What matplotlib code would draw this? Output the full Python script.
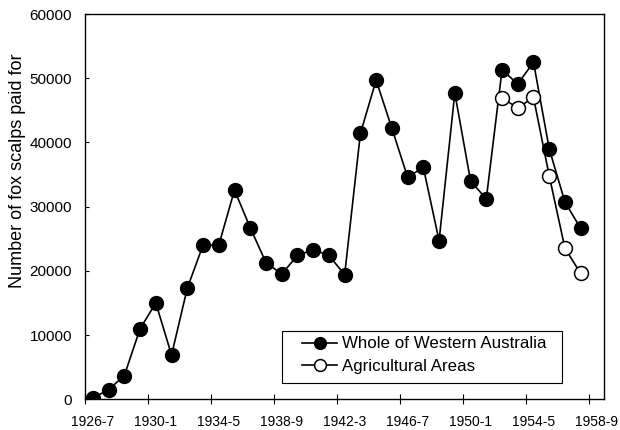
import matplotlib
matplotlib.use("Agg")
import matplotlib.pyplot as plt
from matplotlib.patches import Rectangle
import numpy as np

plt.rcParams['font.family'] = ['Liberation Sans', 'DejaVu Sans']

seasons = ["1926-7", "1927-8", "1928-9", "1929-30", "1930-1", "1931-2", "1932-3",
           "1933-4", "1934-5", "1935-6", "1936-7", "1937-8", "1938-9", "1939-40",
           "1940-1", "1941-2", "1942-3", "1943-4", "1944-5", "1945-6", "1946-7",
           "1947-8", "1948-9", "1949-50", "1950-1", "1951-2", "1952-3", "1953-4",
           "1954-5", "1955-6", "1956-7", "1957-8", "1958-9"]

whole_wa = [200, 1500, 3700, 11000, 15000, 6900, 17300, 24000, 24000, 32600,
            26700, 21300, 19500, 22400, 23300, 22400, 19400, 41400, 49700, 42200,
            34600, 36100, 24700, 47700, 34000, 31200, 51300, 49100, 52500, 39000,
            30700, 26600]

# Agricultural areas recorded from 1952-3 onward
agri_start = seasons.index("1952-3")
agri_areas = [46900, 45400, 47000, 34800, 23500, 19600]

label_every = 4

fig = plt.figure(figsize=(6.2, 4.3), dpi=100)
ax = fig.add_axes([0.1371, 0.0714, 0.8376, 0.896])

x_whole = np.arange(len(whole_wa))
x_agri = np.arange(agri_start, agri_start + len(agri_areas))

ax.plot(x_whole, whole_wa, color='black', lw=1.2, marker='o', ms=10,
        mfc='black', mec='black', label='Whole of Western Australia')
ax.plot(x_agri, agri_areas, color='black', lw=1.2, marker='o', ms=10,
        mfc='white', mec='black', mew=1.1, label='Agricultural Areas')

ax.set_xlim(-0.5, len(seasons) - 0.5)
ax.set_ylim(0, 60000)

# Category labels centred on every fourth season, tick marks on boundaries
label_pos = np.arange(0, len(seasons), label_every)
ax.set_xticks(label_pos)
ax.set_xticklabels([seasons[i] for i in label_pos], fontsize=10)
ax.tick_params(axis='x', which='major', length=0, pad=11)
ax.set_xticks(np.arange(-0.5, len(seasons) - 0.5, label_every), minor=True)
ax.tick_params(axis='x', which='minor', direction='inout', length=7, width=0.8)

ax.set_yticks(np.arange(0, 60001, 10000))
ax.tick_params(axis='y', direction='in', length=3, width=0.8, labelsize=11, pad=9.4)
fig.text(17.5 / 620, 1 - 171 / 430, 'Number of fox scalps paid for', rotation=90,
         ha='center', va='center', fontsize=13)

for s in ax.spines.values():
    s.set_linewidth(1.0)

# Legend frame drawn separately so its padding can differ horizontally
ax.add_patch(Rectangle((0.3788, 0.0415), 0.918 - 0.3788, 0.1773 - 0.0415,
                       transform=ax.transAxes, fill=True, facecolor='white',
                       edgecolor='black', lw=0.8, zorder=4))
leg = ax.legend(loc='upper left', bbox_to_anchor=(0.4173, 0.163), fontsize=12.2,
                frameon=False, borderpad=0, borderaxespad=0, markerscale=0.85,
                handlelength=2.1, handletextpad=0.3, labelspacing=0.45)
leg.set_zorder(5)

fig.savefig('out.png', dpi=100)
